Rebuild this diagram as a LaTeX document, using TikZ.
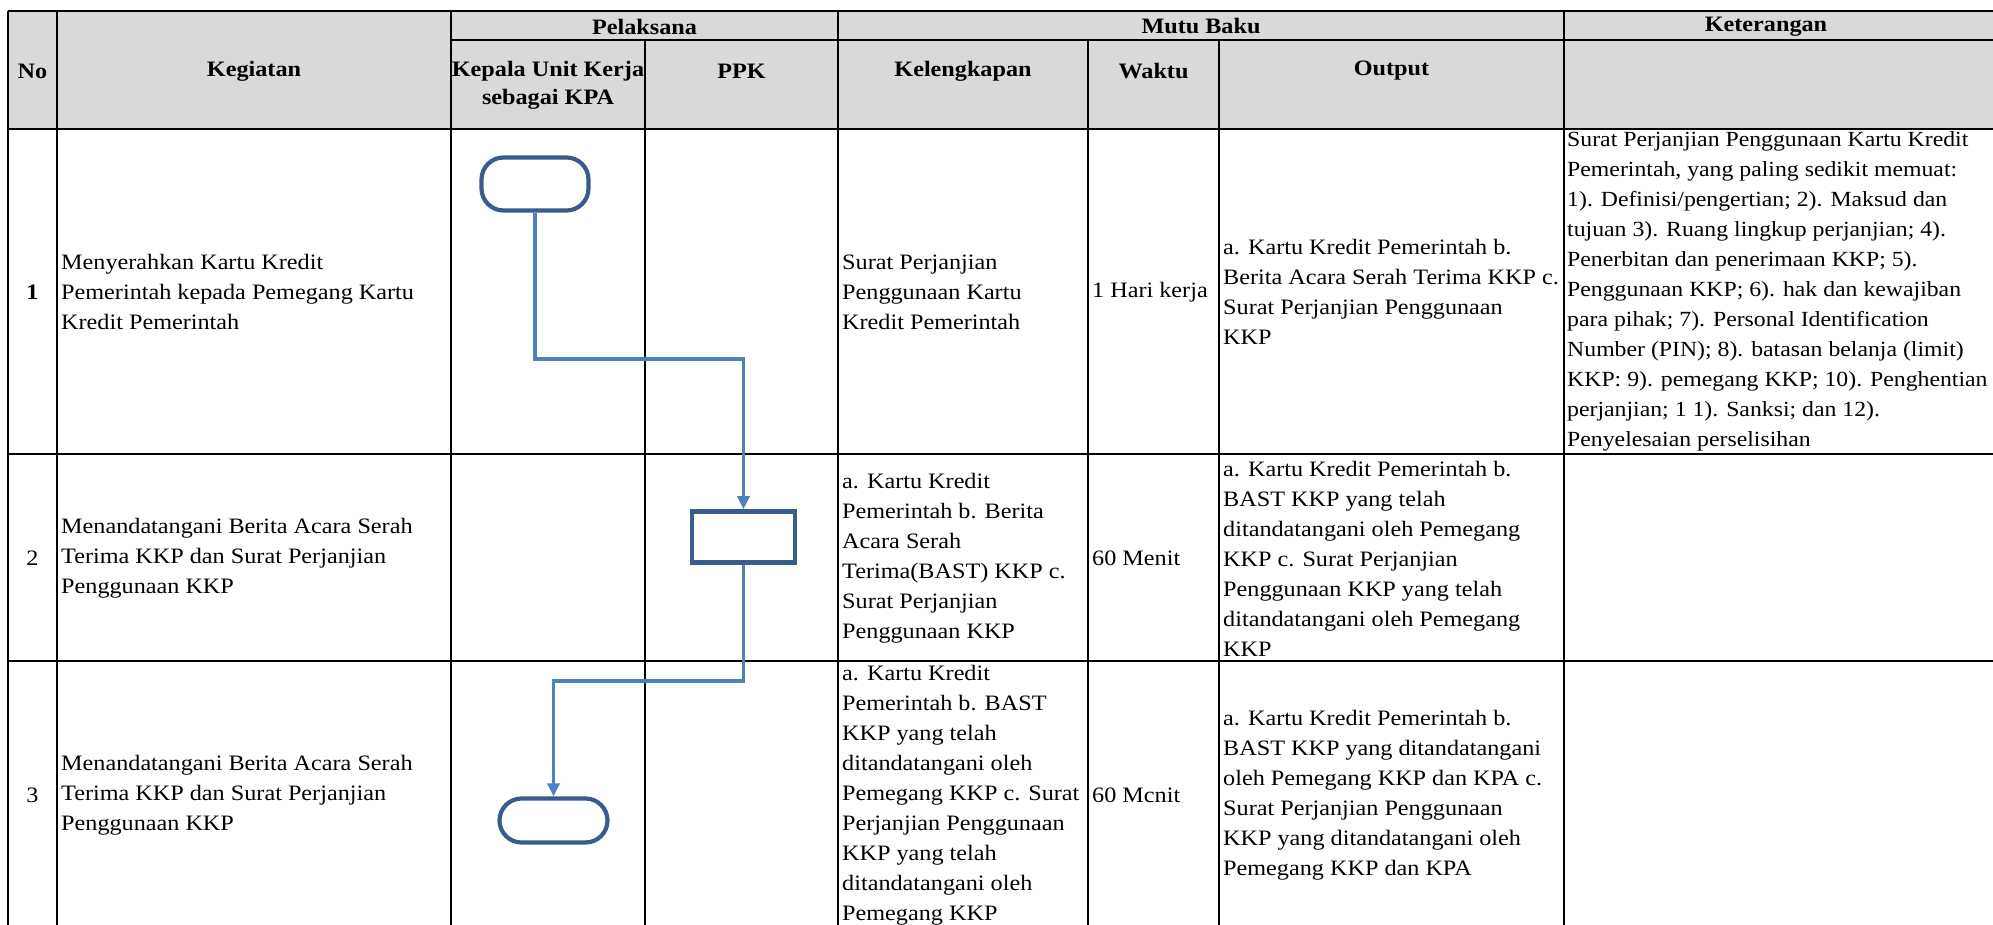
\documentclass[tikz,border=0pt]{standalone}
\usepackage{fontspec}
\setmainfont[FakeStretch=1.1]{Liberation Serif}
\usetikzlibrary{arrows.meta}
\definecolor{hdr}{HTML}{D9D9D9}
\definecolor{shapeblue}{HTML}{385D8A}
\definecolor{connblue}{HTML}{4F81BD}
\tikzset{
  rule/.style={line width=1.6pt, draw=black},
  thickrule/.style={line width=2.8pt, draw=black},
  cell/.style={inner sep=0pt, align=left, anchor=west, font=\fontsize{22}{30}\selectfont},
  ketcell/.style={cell, font=\fontsize{21.6}{30}\selectfont},
  hd/.style={inner sep=0pt, align=center, font=\fontsize{22}{28}\selectfont\bfseries},
  num/.style={inner sep=0pt, align=center, font=\fontsize{22}{30}\selectfont},
  term/.style={draw=shapeblue, line width=4.2pt, fill=white, rounded corners=22pt,
    minimum width=107pt, minimum height=53pt, inner sep=0pt},
  proc/.style={draw=shapeblue, line width=4.6pt, fill=white,
    minimum width=103pt, minimum height=51pt, inner sep=0pt},
  conn/.style={draw=connblue, line width=3.4pt, -{Triangle[length=13pt,width=12pt]}},
}
\begin{document}
\begin{tikzpicture}[x=1pt,y=-1pt]
\useasboundingbox (0,0) rectangle (1993,925);
\clip (0,0) rectangle (1993,925);
\fill[white] (0,0) rectangle (1993,925);
% header fill
\fill[hdr] (8,11) rectangle (1993,129);
% horizontal rules
\draw[rule] (8,11) -- (1993,11);
\draw[rule] (451,40) -- (1993,40);
\draw[thickrule] (8,129) -- (1993,129);
\draw[rule] (8,454) -- (1993,454);
\draw[rule] (8,661) -- (1993,661);
% vertical rules
\foreach \x in {8,57,451,838,1564} \draw[rule] (\x,11) -- (\x,930);
\foreach \x in {645,1088,1219} \draw[rule] (\x,40) -- (\x,930);

% header texts
\node[hd] (hNo) at (32.5,71) {No};
\node[hd] (hKeg) at (254,71) {Kegiatan};
\node[hd] (hPel) at (644.5,26.5) {Pelaksana};
\node[hd] (hMutu) at (1201,26.5) {Mutu Baku};
\node[hd] (hKet) at (1766,26.5) {Keterangan};
\node[hd] (hKPA) at (548,85) {Kepala Unit Kerja\\sebagai KPA};
\node[hd] (hPPK) at (741.5,71) {PPK};
\node[hd] (hKel) at (963,71) {Kelengkapan};
\node[hd] (hWak) at (1153.5,71) {Waktu};
\node[hd] (hOut) at (1391.5,71) {Output};

% row 1
\node[num, font=\fontsize{22}{30}\selectfont\bfseries] (n1) at (32.5,292) {1};
\node[cell] (k1t) at (61,292) {Menyerahkan Kartu Kredit\\Pemerintah kepada Pemegang Kartu\\Kredit Pemerintah};
\node[cell] (l1) at (842,292) {Surat Perjanjian\\Penggunaan Kartu\\Kredit Pemerintah};
\node[cell] (w1) at (1092,292) {1 Hari kerja};
\node[cell] (o1) at (1223,292) {a. Kartu Kredit Pemerintah b.\\Berita Acara Serah Terima KKP c.\\Surat Perjanjian Penggunaan\\KKP};
\node[ketcell] (c1) at (1567,291) {Surat Perjanjian Penggunaan Kartu Kredit\\Pemerintah, yang paling sedikit memuat:\\1). Definisi/pengertian; 2). Maksud dan\\tujuan 3). Ruang lingkup perjanjian; 4).\\Penerbitan dan penerimaan KKP; 5).\\Penggunaan KKP; 6). hak dan kewajiban\\para pihak; 7). Personal Identification\\Number (PIN); 8). batasan belanja (limit)\\KKP: 9). pemegang KKP; 10). Penghentian\\perjanjian; 1 1). Sanksi; dan 12).\\Penyelesaian perselisihan};

% row 2
\node[num] (n2) at (32.5,558) {2};
\node[cell] (k2t) at (61,558) {Menandatangani Berita Acara Serah\\Terima KKP dan Surat Perjanjian\\Penggunaan KKP};
\node[cell] (l2) at (842,558) {a. Kartu Kredit\\Pemerintah b. Berita\\Acara Serah\\Terima(BAST) KKP c.\\Surat Perjanjian\\Penggunaan KKP};
\node[cell] (w2) at (1092,558) {60 Menit};
\node[cell] (o2) at (1223,559) {a. Kartu Kredit Pemerintah b.\\BAST KKP yang telah\\ditandatangani oleh Pemegang\\KKP c. Surat Perjanjian\\Penggunaan KKP yang telah\\ditandatangani oleh Pemegang\\KKP};

% row 3
\node[num] (n3) at (32.5,795) {3};
\node[cell] (k3t) at (61,795) {Menandatangani Berita Acara Serah\\Terima KKP dan Surat Perjanjian\\Penggunaan KKP};
\node[cell] (l3) at (842,795) {a. Kartu Kredit\\Pemerintah b. BAST\\KKP yang telah\\ditandatangani oleh\\Pemegang KKP c. Surat\\Perjanjian Penggunaan\\KKP yang telah\\ditandatangani oleh\\Pemegang KKP};
\node[cell] (w3) at (1092,795) {60 Mcnit};
\node[cell] (o3) at (1223,795) {a. Kartu Kredit Pemerintah b.\\BAST KKP yang ditandatangani\\oleh Pemegang KKP dan KPA c.\\Surat Perjanjian Penggunaan\\KKP yang ditandatangani oleh\\Pemegang KKP dan KPA};

% flow shapes
\node[term] (t1) at (535,184) {};
\node[proc] (p2) at (743.5,537) {};
\node[term, minimum width=108pt, minimum height=44pt] (t3) at (553.5,820.5) {};
\coordinate (kk1) at (0,359);
\coordinate (kk2) at (0,681);
\draw[conn] (t1.south) |- (p2.north |- kk1) -- (p2.north);
\draw[conn] (p2.south) |- (t3.north |- kk2) -- (t3.north);
\end{tikzpicture}
\end{document}
